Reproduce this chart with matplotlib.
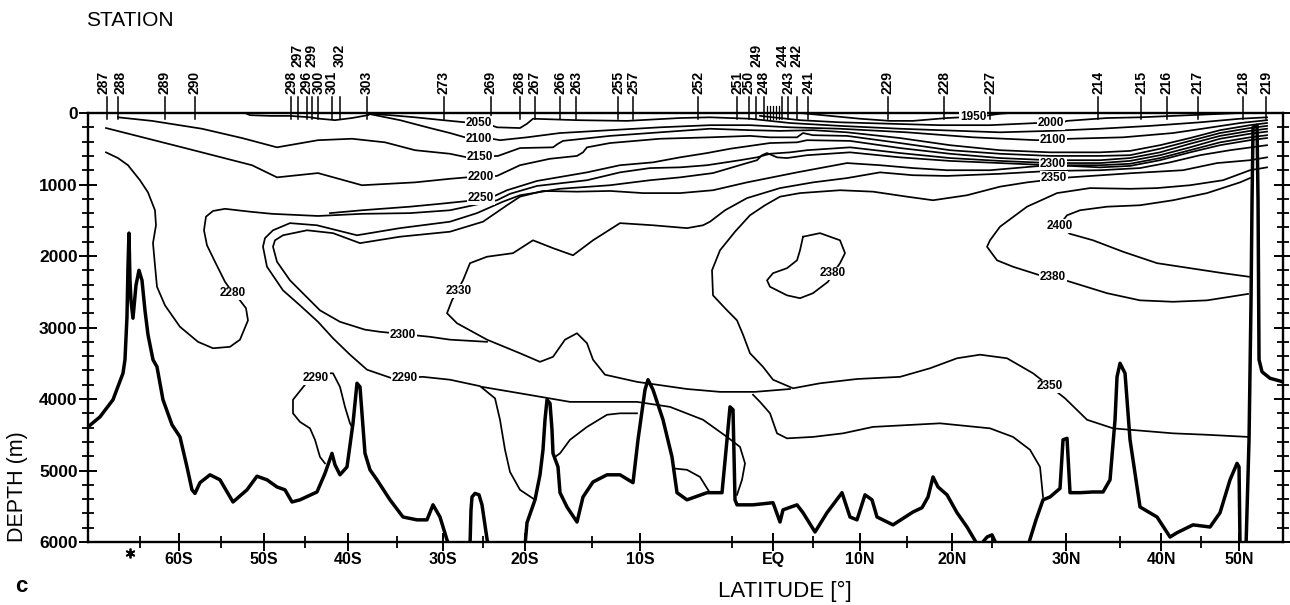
import matplotlib
matplotlib.use('Agg')
import matplotlib.pyplot as plt
import matplotlib.transforms as mtransforms
import numpy as np

plt.rcParams['font.family'] = ['Liberation Sans', 'DejaVu Sans']

# station numbers and their position along the track (km)
station_ids = [287, 288, 289, 290, 298, 297, 296, 299, 300, 301, 302, 303, 273, 269,
               268, 267, 266, 263, 255, 257, 252, 251, 250, 249, 248, 244, 243, 242,
               241, 229, 228, 227, 214, 215, 216, 217, 218, 219]
station_km = [190, 300, 770, 1070, 2035, 2097, 2188, 2238, 2304, 2437, 2520, 2790, 3560,
              4030, 4320, 4470, 4720, 4880, 5300, 5450, 6100, 6490, 6606, 6680, 6755,
              6940, 7004, 7087, 7200, 7995, 8560, 9020, 10100, 10530, 10785, 11096,
              11550, 11780]
extra_station_km = [6790, 6820, 6850, 6880, 6910]
upper_row = {297, 299, 302, 249, 244, 242}

lat_labels = ['60S', '50S', '40S', '30S', '20S', '10S', 'EQ', '10N', '20N', '30N', '40N', '50N']
lat_km = [910, 1760, 2600, 3550, 4370, 5520, 6850, 7720, 8640, 9780, 10730, 11510]
lat_minor_km = [520, 1330, 2170, 3090, 3950, 5040, 6440, 7250, 8190, 9040, 10320, 11130]
marker_km = 420

# bottom topography, in pieces (km, m)
bot1_km = [0, 120, 250, 350, 370, 390, 400, 410, 420, 430, 450, 480, 510, 540, 570, 600,
           650, 690, 750, 840, 920, 990, 1040, 1070, 1120, 1220, 1320, 1450, 1590, 1690,
           1790, 1890, 1970, 2040, 2120, 2290, 2370, 2440, 2470, 2520, 2590, 2650, 2690,
           2720, 2770, 2820, 2890, 3020, 3150, 3290, 3390, 3450, 3520, 3590, 3610]
bot1_m = [4390, 4250, 4010, 3640, 3450, 2850, 2150, 1680, 2340, 2620, 2870, 2410, 2200,
          2340, 2760, 3100, 3450, 3550, 4010, 4360, 4530, 4950, 5270, 5320, 5170, 5060,
          5130, 5440, 5270, 5080, 5130, 5230, 5270, 5440, 5410, 5300, 5040, 4760, 4920,
          5060, 4950, 4340, 3780, 3830, 4760, 4990, 5130, 5410, 5650, 5690, 5690, 5480,
          5650, 5970, 6050]
bot2_km = [3820, 3830, 3840, 3870, 3910, 3940, 4000]
bot2_m = [6050, 5550, 5370, 5320, 5340, 5480, 6050]
bot3_km = [4370, 4390, 4470, 4520, 4550, 4570, 4590, 4620, 4640, 4650, 4700, 4720, 4790,
           4890, 4950, 5050, 5190, 5320, 5450, 5500, 5570, 5600, 5650, 5750, 5840, 5890,
           5990, 6190, 6340, 6390, 6420, 6450, 6470, 6490, 6650, 6850, 6920, 6950, 7090,
           7150, 7270, 7390, 7540, 7620, 7690, 7770, 7840, 7890, 8050, 8250, 8340, 8400,
           8450, 8500, 8590, 8690, 8790, 8900]
bot3_m = [6050, 5730, 5410, 5060, 4710, 4290, 4010, 4060, 4430, 4760, 4950, 5310, 5510,
          5720, 5370, 5160, 5060, 5060, 5170, 4570, 3870, 3730, 3870, 4290, 4810, 5310,
          5410, 5310, 5310, 4570, 4110, 4150, 5410, 5480, 5480, 5450, 5720, 5550, 5480,
          5590, 5860, 5590, 5310, 5650, 5690, 5340, 5410, 5650, 5760, 5580, 5520, 5370,
          5090, 5230, 5340, 5590, 5790, 6050]
bot4_km = [8920, 8990, 9040, 9090]
bot4_m = [6050, 5930, 5900, 6050]
bot5_km = [9400, 9480, 9550, 9620, 9720, 9750, 9790, 9820, 9920, 10050, 10150, 10220,
           10270, 10290, 10320, 10370, 10420, 10520, 10690, 10820, 10890, 11050, 11220,
           11320, 11420, 11490, 11510, 11520]
bot5_m = [6050, 5690, 5410, 5370, 5250, 4570, 4550, 5310, 5310, 5300, 5300, 5130, 4290,
          3690, 3500, 3640, 4570, 5510, 5650, 5930, 5870, 5760, 5790, 5590, 5130, 4900,
          4950, 6050]
bot6_km = [11580, 11610, 11630, 11640, 11650, 11690, 11700, 11710, 11740, 11820, 11950]
bot6_m = [6050, 4570, 2620, 1220, 200, 170, 1220, 3450, 3620, 3710, 3760]

# isolines (km, m)
iso1950_km = [7120, 7420, 7720, 8020, 8250, 8590, 8740, 8970, 9120, 9220]
iso1950_m = [0, 40, 80, 110, 110, 70, 60, 40, 10, 0]

iso2000_km = [6720, 7120, 7520, 8020, 8520, 9020, 9490, 9750, 9790, 10190, 10520, 11020, 11520]
iso2000_m = [40, 100, 130, 150, 170, 170, 140, 130, 110, 70, 60, 30, 0]

iso2050a_km = [1570, 1620, 1820, 2020, 2220, 2320, 2470, 2640, 2800, 2840]
iso2050a_m = [0, 30, 40, 40, 60, 80, 100, 70, 30, 0]
iso2050_km = [2790, 3020, 3270, 3550, 3770, 4050, 4090, 4320, 4390, 4450, 4890, 5390, 5920,
              6220, 6620, 7020, 7520, 8120, 8720, 9120, 9620, 10120, 10620, 11120, 11520, 11790]
iso2050_m = [10, 30, 60, 100, 130, 180, 200, 210, 150, 80, 100, 110, 70, 60, 80, 140, 180,
             220, 250, 270, 250, 220, 180, 130, 80, 60]

iso2100_km = [2800, 3120, 3420, 3620, 3770, 4040, 4120, 4390, 4720, 5220, 5720, 6220, 6620,
              7020, 7520, 8190, 8850, 9490, 9820, 10350, 10850, 11190, 11520, 11790]
iso2100_m = [10, 100, 210, 280, 340, 360, 380, 340, 280, 240, 200, 170, 170, 200, 220, 270,
             340, 380, 360, 340, 280, 210, 140, 100]

iso2150_km = [300, 640, 1140, 1540, 1890, 2300, 2640, 2970, 3270, 3620, 3790, 4100, 4320,
              4650, 4700, 4750, 4950, 5220, 5720, 6220, 6620, 6920, 7250, 7590, 8120, 8620,
              9120, 9620, 10120, 10420, 10720, 11020, 11320, 11620, 11790]
iso2150_m = [60, 110, 220, 350, 480, 380, 360, 410, 520, 570, 620, 600, 490, 480, 430, 390,
             360, 320, 270, 220, 240, 250, 240, 270, 350, 450, 520, 550, 550, 530, 450, 350,
             240, 170, 140]

iso2200_km = [180, 970, 1640, 1890, 2300, 2740, 3270, 3620, 3790, 4090, 4320, 4620, 4890,
              4950, 4990, 5220, 5720, 6220, 6620, 6820, 7090, 7150, 7250, 7590, 8120, 8620,
              9120, 9620, 10120, 10420, 10720, 11020, 11320, 11620, 11790]
iso2200_m = [210, 490, 730, 900, 840, 1010, 970, 920, 900, 880, 730, 640, 600, 550, 480,
             420, 360, 340, 320, 340, 340, 280, 310, 320, 420, 520, 570, 600, 600, 590, 500,
             390, 280, 210, 180]

iso2250_km = [2420, 2740, 3220, 3520, 3800, 4050, 4190, 4490, 4990, 5320, 5650, 5920, 6190,
              6420, 6620, 6820, 7090, 7190, 7620, 8120, 8620, 9120, 9620, 10120, 10420,
              10720, 11020, 11320, 11620, 11790]
iso2250_m = [1400, 1360, 1310, 1270, 1230, 1170, 1080, 950, 830, 730, 690, 620, 560, 500,
             460, 420, 410, 380, 390, 490, 570, 630, 660, 660, 630, 550, 430, 320, 250, 220]

iso2280_km = [180, 300, 400, 520, 600, 670, 680, 650, 670, 690, 770, 920, 1100, 1250, 1420,
              1520, 1600, 1580, 1520, 1450, 1370, 1270, 1190, 1160, 1180, 1250, 1370, 1620,
              1840, 2300, 2740, 3220, 3620, 3920, 4090, 4220, 4490, 4990, 5320, 5620, 5920,
              6190, 6520, 6690, 6820, 7020, 7190, 7620, 8120, 8620, 9120, 9620, 10120, 10420,
              10720, 11020, 11320, 11620, 11790]
iso2280_m = [550, 630, 730, 940, 1110, 1360, 1570, 1820, 2130, 2430, 2690, 2990, 3200, 3290,
             3270, 3170, 2900, 2730, 2620, 2520, 2360, 2080, 1850, 1640, 1450, 1370, 1340,
             1380, 1410, 1440, 1410, 1400, 1360, 1270, 1220, 1130, 1020, 940, 830, 770, 760,
             730, 660, 620, 570, 550, 520, 480, 560, 630, 670, 700, 700, 670, 590, 480, 360,
             290, 260]

iso2290_km = [4470, 4320, 4220, 4170, 4120, 4070, 3920, 3620, 3350, 3040, 2790, 2620, 2450,
              2300, 2120, 1950, 1790, 1750, 1770, 1850, 2020, 2290, 2690, 3120, 3620, 3890,
              4150, 4320, 4720, 5220, 5620, 5920, 6250, 6590, 6690, 6740, 6790, 6890, 6990,
              7190, 7620, 8120, 8620, 9120, 9620, 10120, 10420, 10720, 11020, 11320, 11620, 11790]
iso2290_m = [5410, 5270, 5020, 4710, 4290, 3990, 3820, 3730, 3690, 3710, 3590, 3380, 3150,
             2920, 2690, 2480, 2150, 1870, 1750, 1640, 1540, 1570, 1710, 1610, 1520, 1400,
             1240, 1150, 1060, 1010, 940, 900, 840, 700, 660, 590, 560, 620, 630, 590, 550,
             620, 670, 700, 730, 730, 710, 630, 520, 410, 340, 310]
iso2290b_km = [3940, 4320, 4820, 5490, 5820, 6150, 6390, 6520, 6570, 6540, 6490]
iso2290b_m = [3830, 3920, 4040, 4040, 4110, 4290, 4530, 4670, 4900, 5130, 5340]
iso2290c_km = [2370, 2320, 2270, 2220, 2120, 2050, 2050, 2170, 2280, 2400, 2450, 2520, 2570,
               2620, 2640]
iso2290c_m = [4900, 4810, 4570, 4410, 4320, 4200, 4010, 3800, 3710, 3640, 3640, 3830, 4110,
              4340, 4390]

iso2300_km = [3990, 3620, 3420, 2920, 2770, 2520, 2320, 2170, 2020, 1890, 1850, 1870, 1950,
              2190, 2450, 2720, 3120, 3620, 3950, 4190, 4320, 4550, 4890, 5220, 5550, 5920,
              6250, 6590, 7090, 7590, 7920, 8250, 8590, 9020, 9520, 9820, 10120, 10420,
              10720, 11020, 11320, 11620, 11790]
iso2300_m = [3200, 3170, 3130, 3060, 3030, 2920, 2760, 2550, 2340, 2080, 1870, 1780, 1710,
             1640, 1680, 1820, 1730, 1660, 1520, 1290, 1170, 1090, 1100, 1090, 1120, 1120,
             1080, 970, 830, 700, 730, 770, 800, 800, 740, 740, 760, 740, 660, 550, 450,
             380, 350]

iso2330_km = [11790, 11420, 11120, 10820, 10520, 10120, 9620, 9120, 8590, 8250, 7920, 7590,
              7250, 6920, 6590, 6370, 6220, 6150, 5990, 5650, 5320, 5050, 4850, 4650, 4450,
              4250, 3990, 3820, 3750, 3640, 3590, 3690, 3990, 4320, 4520, 4650, 4770, 4890,
              4990, 5050, 5170, 5490, 5990, 6320, 6670, 7020]
iso2330_m = [450, 520, 590, 690, 770, 800, 810, 850, 880, 870, 830, 910, 970, 1050, 1190,
             1360, 1520, 1570, 1610, 1570, 1540, 1780, 1990, 1890, 1780, 1960, 2010, 2100,
             2340, 2620, 2800, 2940, 3170, 3360, 3480, 3410, 3170, 3080, 3220, 3450, 3660,
             3760, 3860, 3900, 3900, 3860]
iso2330b_km = [6650, 6720, 6820, 6890, 6990, 7250, 7550, 7850, 8520, 9020, 9250, 9420, 9520, 9550]
iso2330b_m = [3940, 4040, 4200, 4480, 4550, 4530, 4480, 4390, 4340, 4410, 4530, 4710, 4950, 5370]

iso2350_km = [11790, 11620, 11290, 10950, 10450, 9820, 9390, 9120, 8790, 8450, 8190, 7850,
              7520, 7120, 6920, 6770, 6620, 6470, 6320, 6240, 6250, 6370, 6490, 6550, 6620,
              6750, 6850, 7050, 7320, 7690, 8120, 8420, 8690, 8920, 9190, 9450, 9770, 9990,
              10250, 10420, 10850, 11190, 11600]
iso2350_m = [620, 660, 700, 800, 840, 900, 970, 1030, 1150, 1220, 1170, 1100, 1080, 1120,
             1170, 1290, 1430, 1660, 1920, 2200, 2550, 2730, 2900, 3100, 3360, 3550, 3730,
             3850, 3780, 3720, 3690, 3570, 3430, 3380, 3430, 3640, 3990, 4290, 4410, 4430,
             4480, 4500, 4530]

iso2380_km = [7150, 7320, 7520, 7570, 7520, 7450, 7400, 7250, 7120, 6990, 6820, 6790, 6850,
              6990, 7090, 7120, 7150]
iso2380_m = [1730, 1680, 1780, 1960, 2100, 2240, 2360, 2520, 2590, 2550, 2430, 2340, 2240,
             2170, 2060, 1920, 1730]
iso2380n_km = [11790, 11620, 11350, 11020, 10690, 10420, 10020, 9690, 9390, 9120, 9020, 8990,
               9090, 9250, 9520, 9650, 9820, 10190, 10520, 10850, 11190, 11420, 11600]
iso2380n_m = [760, 800, 940, 1010, 1050, 1060, 1050, 1120, 1310, 1590, 1780, 1870, 2060,
              2150, 2270, 2290, 2360, 2520, 2620, 2640, 2620, 2570, 2530]

iso2400_km = [11620, 11520, 11190, 10850, 10520, 10190, 9920, 9790, 9740, 9770, 9820, 10050,
              10350, 10690, 11020, 11350, 11610]
iso2400_m = [910, 970, 1120, 1220, 1290, 1310, 1360, 1430, 1520, 1640, 1690, 1780, 1940,
             2100, 2170, 2240, 2290]

arch_km = [5490, 5320, 5190, 4990, 4820, 4720, 4670]
arch_m = [4200, 4200, 4220, 4390, 4570, 4760, 4810]
bowl_km = [5850, 5990, 6120, 6200, 6220]
bowl_m = [4970, 4990, 5090, 5270, 5310]

label_values = [2050, 2100, 2150, 2200, 2250, 2280, 2330, 2300, 2290, 2290, 2380,
                1950, 2000, 2100, 2300, 2350, 2400, 2380, 2350]
label_km = [3910, 3910, 3920, 3930, 3930, 1450, 3710, 3150, 3170, 2280, 7450,
            8850, 9630, 9650, 9650, 9660, 9720, 9650, 9620]
label_m = [140, 360, 620, 900, 1190, 2520, 2490, 3100, 3710, 3710, 2240,
           60, 140, 380, 710, 910, 1580, 2290, 3820]

isolines = [
    (iso1950_km, iso1950_m), (iso2000_km, iso2000_m), (iso2050a_km, iso2050a_m),
    (iso2050_km, iso2050_m), (iso2100_km, iso2100_m), (iso2150_km, iso2150_m),
    (iso2200_km, iso2200_m), (iso2250_km, iso2250_m), (iso2280_km, iso2280_m),
    (iso2290_km, iso2290_m), (iso2290b_km, iso2290b_m), (iso2290c_km, iso2290c_m),
    (iso2300_km, iso2300_m), (iso2330_km, iso2330_m), (iso2330b_km, iso2330b_m),
    (iso2350_km, iso2350_m), (iso2380_km, iso2380_m), (iso2380n_km, iso2380n_m),
    (iso2400_km, iso2400_m), (arch_km, arch_m), (bowl_km, bowl_m),
]
bottom = [(bot1_km, bot1_m), (bot2_km, bot2_m), (bot3_km, bot3_m),
          (bot4_km, bot4_m), (bot5_km, bot5_m), (bot6_km, bot6_m)]

fig = plt.figure(figsize=(12.9, 6.05), dpi=100)
ax = fig.add_axes([0.0682, 0.1041, 0.9264, 0.7091])

for xs, ys in isolines:
    ax.plot(xs, ys, color='k', lw=1.25, solid_joinstyle='round', zorder=2)
for xs, ys in bottom:
    ax.plot(xs, ys, color='k', lw=2.5, solid_joinstyle='round', zorder=3)

for v, x, y in zip(label_values, label_km, label_m):
    ax.text(x, y, str(v), ha='center', va='center', fontsize=8.5, fontweight='bold',
            zorder=4, bbox=dict(fc='white', ec='none', pad=0.4))

# station marks above the section; the two southernmost labels are nudged apart
nudge = {287: -2.5, 288: 2.0}
for sid, x in zip(station_ids, station_km):
    ax.plot([x, x], [-230, 90], color='k', lw=1.1, clip_on=False)
    y = -650 if sid in upper_row else -260
    tr = mtransforms.offset_copy(ax.transData, fig=fig, x=nudge.get(sid, 0), units='points')
    ax.text(x, y, str(sid), rotation=90, ha='center', va='bottom', fontsize=10,
            fontweight='bold', clip_on=False, transform=tr)
for x in extra_station_km:
    ax.plot([x, x], [-100, 90], color='k', lw=0.9, clip_on=False)

ax.plot(marker_km, 6150, marker=(6, 2, 0), ms=7, mew=1.3, color='k', clip_on=False)

ax.set_xlim(0, 11950)
ax.set_ylim(6000, 0)
ax.set_yticks(np.arange(0, 6001, 1000))
ax.set_yticks(np.arange(0, 6001, 200), minor=True)
ax.set_xticks(lat_km, lat_labels)
ax.set_xticks(lat_minor_km, minor=True)
for sp in ax.spines.values():
    sp.set_linewidth(1.7)
ax.tick_params(axis='y', which='major', direction='inout', length=13, width=1.4,
               left=True, right=True, labelsize=12.5, pad=1)
ax.tick_params(axis='y', which='minor', direction='inout', length=8, width=1.3,
               left=True, right=True)
ax.tick_params(axis='x', which='major', direction='inout', length=13, width=1.4,
               top=False, labelsize=11.5, pad=1)
ax.tick_params(axis='x', which='minor', direction='inout', length=8, width=1.3, top=False)
for lab in ax.get_xticklabels() + ax.get_yticklabels():
    lab.set_fontweight('bold')

fig.text(0.1008, 0.9653, 'STATION', ha='center', va='center', fontsize=15)
fig.text(0.0132, 0.195, 'DEPTH (m)', rotation=90, ha='center', va='center', fontsize=15.5)
fig.text(0.6085, 0.0231, 'LATITUDE [°]', ha='center', va='center', fontsize=16)
fig.text(0.0163, 0.0314, 'c', ha='center', va='center', fontsize=16, fontweight='bold')

fig.savefig('out.png', dpi=100)
